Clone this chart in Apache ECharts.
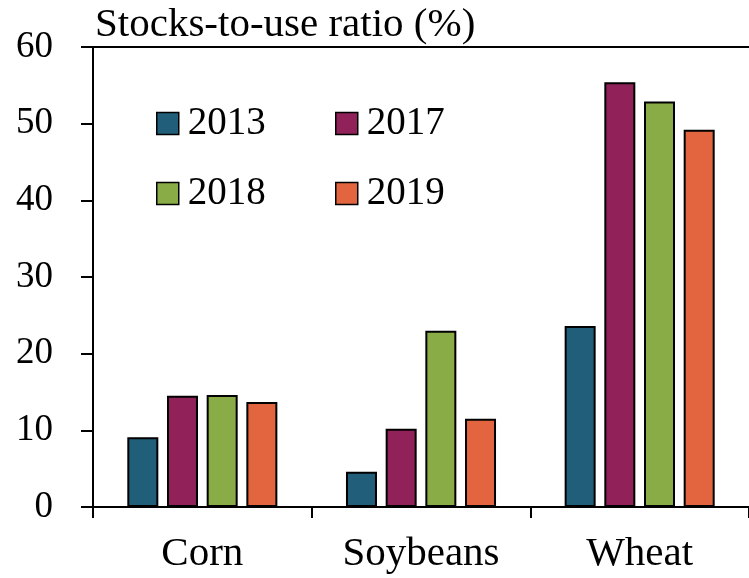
<!DOCTYPE html>
<html>
<head>
<meta charset="utf-8">
<script src="https://cdn.jsdelivr.net/npm/echarts@6/dist/echarts.min.js"></script>
<style>html,body{margin:0;padding:0;background:#fff}#c{width:749px;height:578px}</style>
</head>
<body>
<div id="c"></div>
<script>
const categories = ['Corn', 'Soybeans', 'Wheat'];
const years = ['2013', '2017', '2018', '2019'];
const v2013 = [9.1, 4.6, 23.6];
const v2017 = [14.5, 10.2, 55.4];
const v2018 = [14.6, 23.0, 52.9];
const v2019 = [13.7, 11.5, 49.2];
const colors = ['#215E7A', '#912259', '#8AAC46', '#E2653F'];
const yTicks = [0, 10, 20, 30, 40, 50, 60];

const FONT = '"Liberation Serif", "DejaVu Serif", serif';
const seriesData = [v2013, v2017, v2018, v2019];
const chart = echarts.init(document.getElementById('c'));

const legendPos = [[151, 99], [330, 99], [151, 169], [330, 169]];
const legends = years.map((y, i) => ({
  data: [y],
  left: legendPos[i][0],
  top: legendPos[i][1],
  itemWidth: 22,
  itemHeight: 22,
  icon: 'rect',
  itemStyle: { borderColor: '#000', borderWidth: 1.5 },
  textStyle: { fontFamily: FONT, fontSize: 39, color: '#000', padding: [0, 0, 0, 4] },
  selectedMode: false
}));

chart.setOption({
  animation: false,
  title: {
    text: 'Stocks-to-use ratio (%)',
    left: 90, top: 0,
    textStyle: { fontFamily: FONT, fontSize: 41, fontWeight: 'normal', color: '#000' }
  },
  legend: legends,
  grid: { left: 93, top: 47, bottom: 71, right: -2, containLabel: false },
  xAxis: [{
    type: 'category',
    data: categories,
    axisLine: { lineStyle: { color: '#000', width: 2 } },
    axisTick: { show: true, inside: false, length: 11, lineStyle: { color: '#000', width: 2 } },
    axisLabel: { fontFamily: FONT, fontSize: 41, color: '#000', margin: 27 }
  }, {
    type: 'category',
    position: 'top',
    data: categories,
    axisLine: { show: true, lineStyle: { color: '#000', width: 2 } },
    axisTick: { show: false },
    axisLabel: { show: false }
  }],
  yAxis: {
    type: 'value',
    min: yTicks[0], max: yTicks[yTicks.length - 1], interval: 10,
    axisLine: { show: true, lineStyle: { color: '#000', width: 2 } },
    axisTick: { show: true, length: 12, lineStyle: { color: '#000', width: 2 } },
    splitLine: { show: false },
    axisLabel: { fontFamily: FONT, fontSize: 37, color: '#000', margin: 40 }
  },
  series: years.map((y, i) => ({
    name: y,
    type: 'bar',
    data: seriesData[i],
    barWidth: 31,
    barGap: '28%',
    itemStyle: { color: colors[i], borderColor: '#000', borderWidth: 2 }
  }))
});
</script>
</body>
</html>
